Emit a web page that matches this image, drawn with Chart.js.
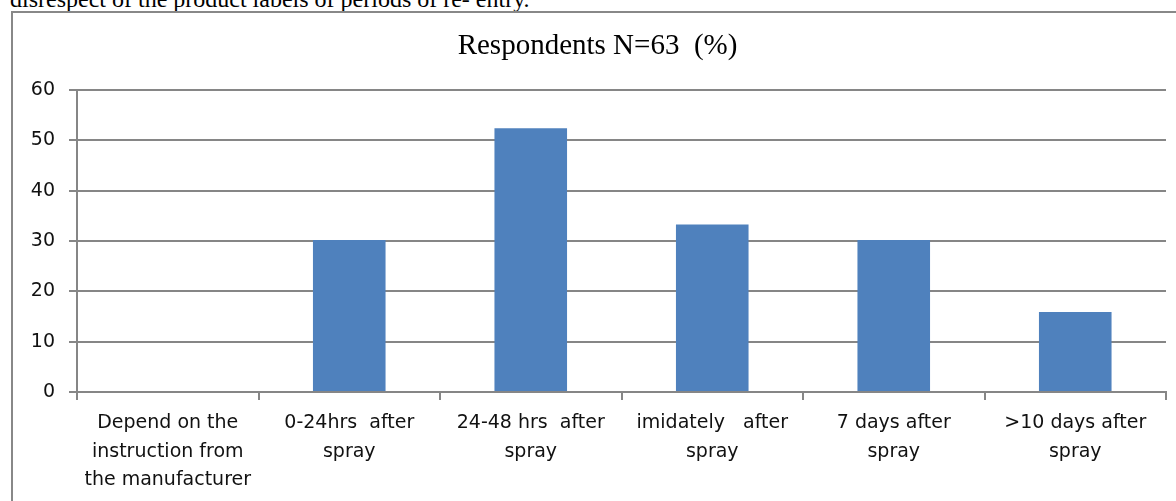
<!DOCTYPE html>
<html>
<head>
<meta charset="utf-8">
<script src="https://cdn.jsdelivr.net/npm/chart.js@4/dist/chart.umd.min.js"></script>
<style>
  html, body { margin: 0; padding: 0; width: 1176px; height: 501px; overflow: hidden; background: #fff; }
  #topText { position: absolute; left: 10px; top: -13px; font-family: "Liberation Serif", "Times New Roman", serif; font-size: 24px; line-height: 24px; color: #000; white-space: nowrap; }
  #box { position: absolute; left: 11px; top: 11px; width: 2000px; height: 1000px; border-left: 2px solid #888; border-top: 2px solid #888; }
  #wrap { position: absolute; left: 0; top: 0; width: 1176px; height: 501px; }
</style>
</head>
<body>
<div id="topText">disrespect of the product labels of periods of re- entry.</div>
<div id="box"></div>
<div id="wrap"><canvas id="c" width="1176" height="501"></canvas></div>
<script>
const chartTitle = "Respondents N=63  (%)";
const categories = [
  ["Depend on the", "instruction from", "the manufacturer"],
  ["0-24hrs  after", "spray"],
  ["24-48 hrs  after", "spray"],
  ["imidately   after", "spray"],
  ["7 days after", "spray"],
  [">10 days after", "spray"]
];
const respondentsPct = [0, 30.2, 52.4, 33.3, 30.2, 15.9];
const yTicks = [0, 10, 20, 30, 40, 50, 60];

const gridColor = '#868686';
new Chart(document.getElementById('c'), {
  type: 'bar',
  data: {
    labels: categories,
    datasets: [{
      label: chartTitle,
      data: respondentsPct,
      backgroundColor: '#4F81BD',
      borderWidth: 0,
      barPercentage: 0.4,
      categoryPercentage: 1.0
    }]
  },
  options: {
    responsive: false,
    animation: false,
    devicePixelRatio: 1,
    layout: { padding: { left: 29, right: 10, top: 0, bottom: 0 } },
    plugins: {
      legend: { display: false },
      tooltip: { enabled: false },
      title: {
        display: true,
        text: chartTitle,
        color: '#000',
        font: { family: "'Liberation Serif', 'Times New Roman', serif", size: 29, weight: 'normal', lineHeight: 1.2 },
        padding: { top: 29, bottom: 26.2 }
      }
    },
    scales: {
      x: {
        offset: true,
        grid: { display: true, drawOnChartArea: false, drawTicks: true, tickLength: 8, color: gridColor, lineWidth: 2, offset: true },
        border: { display: true, color: gridColor, width: 2 },
        ticks: {
          color: '#111',
          maxRotation: 0,
          autoSkip: false,
          padding: 9,
          font: { family: "'DejaVu Sans', sans-serif", size: 19, lineHeight: 1.5 }
        },
        afterFit: (s) => { s.height = 109; }
      },
      y: {
        min: 0,
        max: 60,
        afterBuildTicks: (s) => { s.ticks = yTicks.map(v => ({ value: v })); },
        grid: { color: gridColor, lineWidth: 2, tickLength: 8, drawTicks: true },
        border: { display: true, color: gridColor, width: 2 },
        ticks: {
          color: '#111',
          padding: 14,
          font: { family: "'DejaVu Sans', sans-serif", size: 19 }
        },
        afterFit: (s) => { s.width = 48; }
      }
    }
  }
});
</script>
</body>
</html>
